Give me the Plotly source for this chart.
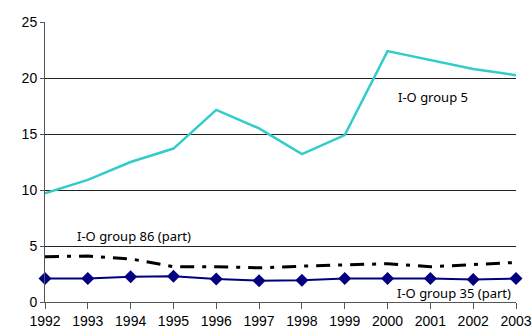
import plotly.graph_objects as go

years = list(range(1992, 2004))
group5 = [9.7, 10.9, 12.5, 13.7, 17.15, 15.5, 13.2, 14.9, 22.4, 21.6, 20.8, 20.25]
group86 = [4.05, 4.1, 3.85, 3.15, 3.15, 3.05, 3.2, 3.33, 3.42, 3.15, 3.33, 3.53]
group35 = [2.1, 2.1, 2.25, 2.3, 2.05, 1.9, 1.95, 2.1, 2.1, 2.1, 2.0, 2.1]
y_ticks = [0, 5, 10, 15, 20, 25]

fig = go.Figure()
fig.add_trace(go.Scatter(x=years, y=group5, mode="lines",
                         line=dict(color="#33CCCC", width=2.5), cliponaxis=False))
fig.add_trace(go.Scatter(x=years, y=group86, mode="lines",
                         line=dict(color="black", width=3, dash="14px,8px,4px,8px"), cliponaxis=False))
fig.add_trace(go.Scatter(x=years, y=group35, mode="lines+markers",
                         line=dict(color="#000080", width=2),
                         marker=dict(symbol="diamond", size=10, color="#000080"), cliponaxis=False))

ann_font = dict(family="Noto Sans", size=13, color="black")
fig.add_annotation(x=2000.2, y=18.3, text="I-O group 5", showarrow=False, xanchor="left", font=ann_font)
fig.add_annotation(x=1992.7, y=5.85, text="I-O group 86 (part)", showarrow=False, xanchor="left", font=ann_font)
fig.add_annotation(x=2002.93, y=0.77, text="I-O group 35 (part)", showarrow=False, xanchor="right", font=ann_font)

fig.update_layout(
    width=532, height=329,
    margin=dict(l=45, r=16, t=22, b=27),
    plot_bgcolor="white", paper_bgcolor="white",
    showlegend=False,
    font=dict(family="Liberation Sans", size=14, color="black"),
)
fig.update_xaxes(range=[1992, 2003], tickvals=years, ticktext=[str(y) for y in years],
                 showgrid=False, showline=True, linecolor="#555", linewidth=1,
                 ticks="outside", ticklen=6, tickcolor="#555", zeroline=False, automargin=False)
fig.update_yaxes(range=[0, 25], tickvals=y_ticks, showgrid=True, gridcolor="#222", gridwidth=1,
                 showline=True, linecolor="#555", linewidth=1,
                 ticks="outside", ticklen=4, tickcolor="#555", zeroline=False, automargin=False)

fig.write_html("out.html", config={"displayModeBar": False},
               post_script="document.body.style.margin='0';document.body.style.overflow='hidden';")
